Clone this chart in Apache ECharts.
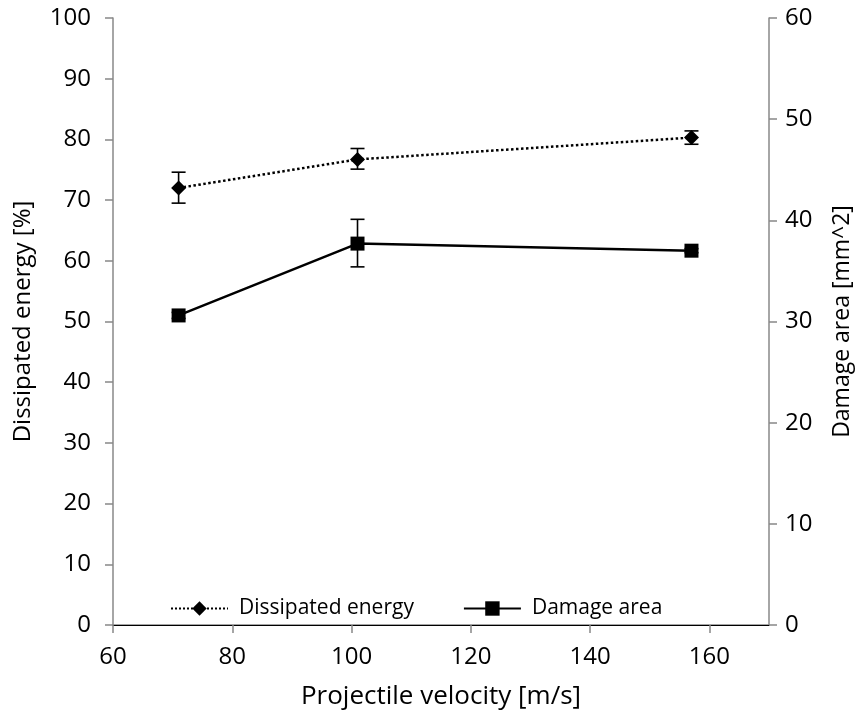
<!DOCTYPE html>
<html><head><meta charset="utf-8">
<script src="https://cdn.jsdelivr.net/npm/echarts@6/dist/echarts.min.js"></script>
<style>html,body{margin:0;padding:0;background:#fff}#c{width:864px;height:716px}</style>
</head><body><div id="c"></div>
<script>
const velocity = [71, 101, 157];
const dissipatedEnergy = [72.0, 76.7, 80.3];
const dissipatedErrLow = [69.5, 75.1, 79.2];
const dissipatedErrHigh = [74.6, 78.5, 81.4];
const damageArea = [30.6, 37.7, 37.0];
const damageErrLow = [30.3, 35.4, 36.8];
const damageErrHigh = [30.9, 40.1, 37.2];
const xTicks = [60, 80, 100, 120, 140, 160];

const tickFont = 'Open Sans';
const titleFont = 'Open Sans';

function errSeries(yIndex, low, high) {
  return {
    type: 'custom', yAxisIndex: yIndex, silent: true, z: 3,
    data: velocity.map((v, i) => [v, low[i], high[i]]),
    renderItem: function (params, api) {
      const lo = api.coord([api.value(0), api.value(1)]);
      const hi = api.coord([api.value(0), api.value(2)]);
      const w = 7;
      const st = { stroke: '#000', lineWidth: 1.6 };
      return { type: 'group', children: [
        { type: 'line', shape: { x1: lo[0], y1: lo[1], x2: hi[0], y2: hi[1] }, style: st },
        { type: 'line', shape: { x1: lo[0] - w, y1: lo[1], x2: lo[0] + w, y2: lo[1] }, style: st },
        { type: 'line', shape: { x1: hi[0] - w, y1: hi[1], x2: hi[0] + w, y2: hi[1] }, style: st }
      ]};
    }
  };
}

const chart = echarts.init(document.getElementById('c'));
chart.setOption({
  animation: false,
  backgroundColor: '#fff',
  grid: { left: 113, right: 95, top: 18, bottom: 91, containLabel: false },
  legend: {
    left: 165, top: 593, itemGap: 49, itemWidth: 57, itemHeight: 18,
    textStyle: { fontFamily: titleFont, fontSize: 21, color: '#000', padding: [0, 0, 0, 6] },
    data: ['Dissipated energy', 'Damage area']
  },
  xAxis: [{
    type: 'value', min: 60, max: 170, interval: 20,
    name: 'Projectile velocity [m/s]', nameLocation: 'middle', nameGap: 59, nameMoveOverlap: false,
    nameTextStyle: { fontFamily: titleFont, fontSize: 26, color: '#000' },
    axisLine: { lineStyle: { color: '#888', width: 1.5 } },
    axisTick: { inside: false, length: 8, customValues: xTicks, lineStyle: { color: '#888', width: 1.5 } },
    axisLabel: { customValues: xTicks, fontFamily: tickFont, fontSize: 24, color: '#000', margin: 20 },
    splitLine: { show: false }
  }, {
    type: 'value', min: 60, max: 170, position: 'top',
    axisLine: { show: true, lineStyle: { color: '#000', width: 1 } },
    axisTick: { show: false }, axisLabel: { show: false }, splitLine: { show: false }
  }],
  yAxis: [{
    type: 'value', min: 0, max: 100, interval: 10,
    name: 'Dissipated energy [%]', nameLocation: 'middle', nameGap: 78, nameRotate: 90, nameMoveOverlap: false,
    nameTextStyle: { fontFamily: titleFont, fontSize: 24, color: '#000' },
    axisLine: { show: true, lineStyle: { color: '#888', width: 1.5 } },
    axisTick: { show: true, length: 8, lineStyle: { color: '#888', width: 1.5 } },
    axisLabel: { fontFamily: tickFont, fontSize: 24, color: '#000', margin: 22 },
    splitLine: { show: false }
  }, {
    type: 'value', min: 0, max: 60, interval: 10, position: 'right',
    name: 'Damage area [mm^2]', nameLocation: 'middle', nameGap: 62, nameRotate: 90, nameMoveOverlap: false,
    nameTextStyle: { fontFamily: titleFont, fontSize: 23, color: '#000' },
    axisLine: { show: true, lineStyle: { color: '#888', width: 1.5 } },
    axisTick: { show: true, length: 8, lineStyle: { color: '#888', width: 1.5 } },
    axisLabel: { fontFamily: tickFont, fontSize: 24, color: '#000', margin: 16 },
    splitLine: { show: false }
  }],
  series: [
    {
      name: 'Dissipated energy', type: 'line', yAxisIndex: 0, z: 4,
      data: velocity.map((v, i) => [v, dissipatedEnergy[i]]),
      symbol: 'diamond', symbolSize: 15,
      itemStyle: { color: '#000' },
      lineStyle: { color: '#000', width: 2.5, type: 'dotted' }
    },
    {
      name: 'Damage area', type: 'line', yAxisIndex: 1, z: 4,
      data: velocity.map((v, i) => [v, damageArea[i]]),
      symbol: 'rect', symbolSize: 14,
      itemStyle: { color: '#000' },
      lineStyle: { color: '#000', width: 2.5, type: 'solid' }
    },
    errSeries(0, dissipatedErrLow, dissipatedErrHigh),
    errSeries(1, damageErrLow, damageErrHigh)
  ]
});
</script></body></html>
